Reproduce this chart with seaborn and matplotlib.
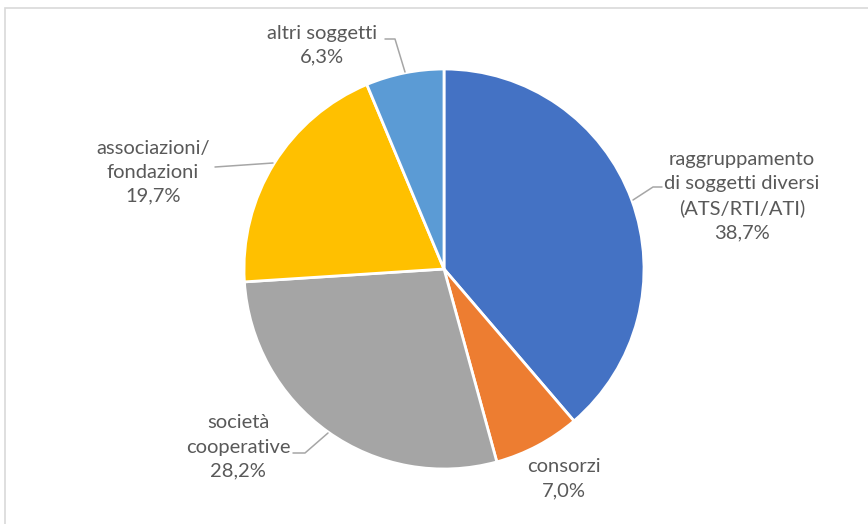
import matplotlib
matplotlib.use("Agg")
import matplotlib.pyplot as plt
from matplotlib.patches import Rectangle
import seaborn as sns

categories = [
    "raggruppamento\ndi soggetti diversi\n(ATS/RTI/ATI)",
    "consorzi",
    "società\ncooperative",
    "associazioni/\nfondazioni",
    "altri soggetti",
]
shares = [38.7, 7.0, 28.2, 19.7, 6.3]
colors = ["#4472C4", "#ED7D31", "#A5A5A5", "#FFC000", "#5B9BD5"]

sns.set_theme(style="white")
plt.rcParams["font.family"] = ["Lato", "DejaVu Sans"]

W, H = 868, 524
CX, CY, R = 444, 269, 200  # pie centre and radius in pixels


def to_data(px, py):
    return (px - CX) / R, (CY - py) / R


fig = plt.figure(figsize=(W / 100, H / 100), dpi=100)
ax = fig.add_axes([0, 0, 1, 1])

# chart frame
fig.patches.append(Rectangle((5 / W, -0.1), 1.2, 1 - 8 / H + 0.1,
                             transform=fig.transFigure, fill=False,
                             edgecolor="#D9D9D9", linewidth=1.2))

ax.pie(shares, colors=colors, startangle=90, counterclock=False, radius=1,
       center=(0, 0), wedgeprops=dict(edgecolor="white", linewidth=2),
       frame=True)
ax.set_xlim(-CX / R, (W - CX) / R)
ax.set_ylim(-(H - CY) / R, CY / R)
ax.set_aspect("auto")
ax.set_axis_off()

label_pos = [(742, 196), (564, 479), (238, 447), (153, 172), (322, 45)]
leaders = [
    [(633, 200), (653, 187), (662, 187)],
    None,
    [(293, 453), (305, 453), (328, 433)],
    [(215, 167), (273, 163)],
    [(385, 39), (395, 39), (405, 72)],
]

for cat, val, (px, py), lead in zip(categories, shares, label_pos, leaders):
    x, y = to_data(px, py)
    text = f"{cat}\n{val:.1f}%".replace(".", ",")
    ax.text(x, y, text, ha="center", va="center", fontsize=14.5,
            color="#595959", linespacing=1.5)
    if lead:
        xs, ys = zip(*[to_data(a, b) for a, b in lead])
        ax.plot(xs, ys, color="#A6A6A6", linewidth=1.1)

fig.savefig("out.png", dpi=100)
